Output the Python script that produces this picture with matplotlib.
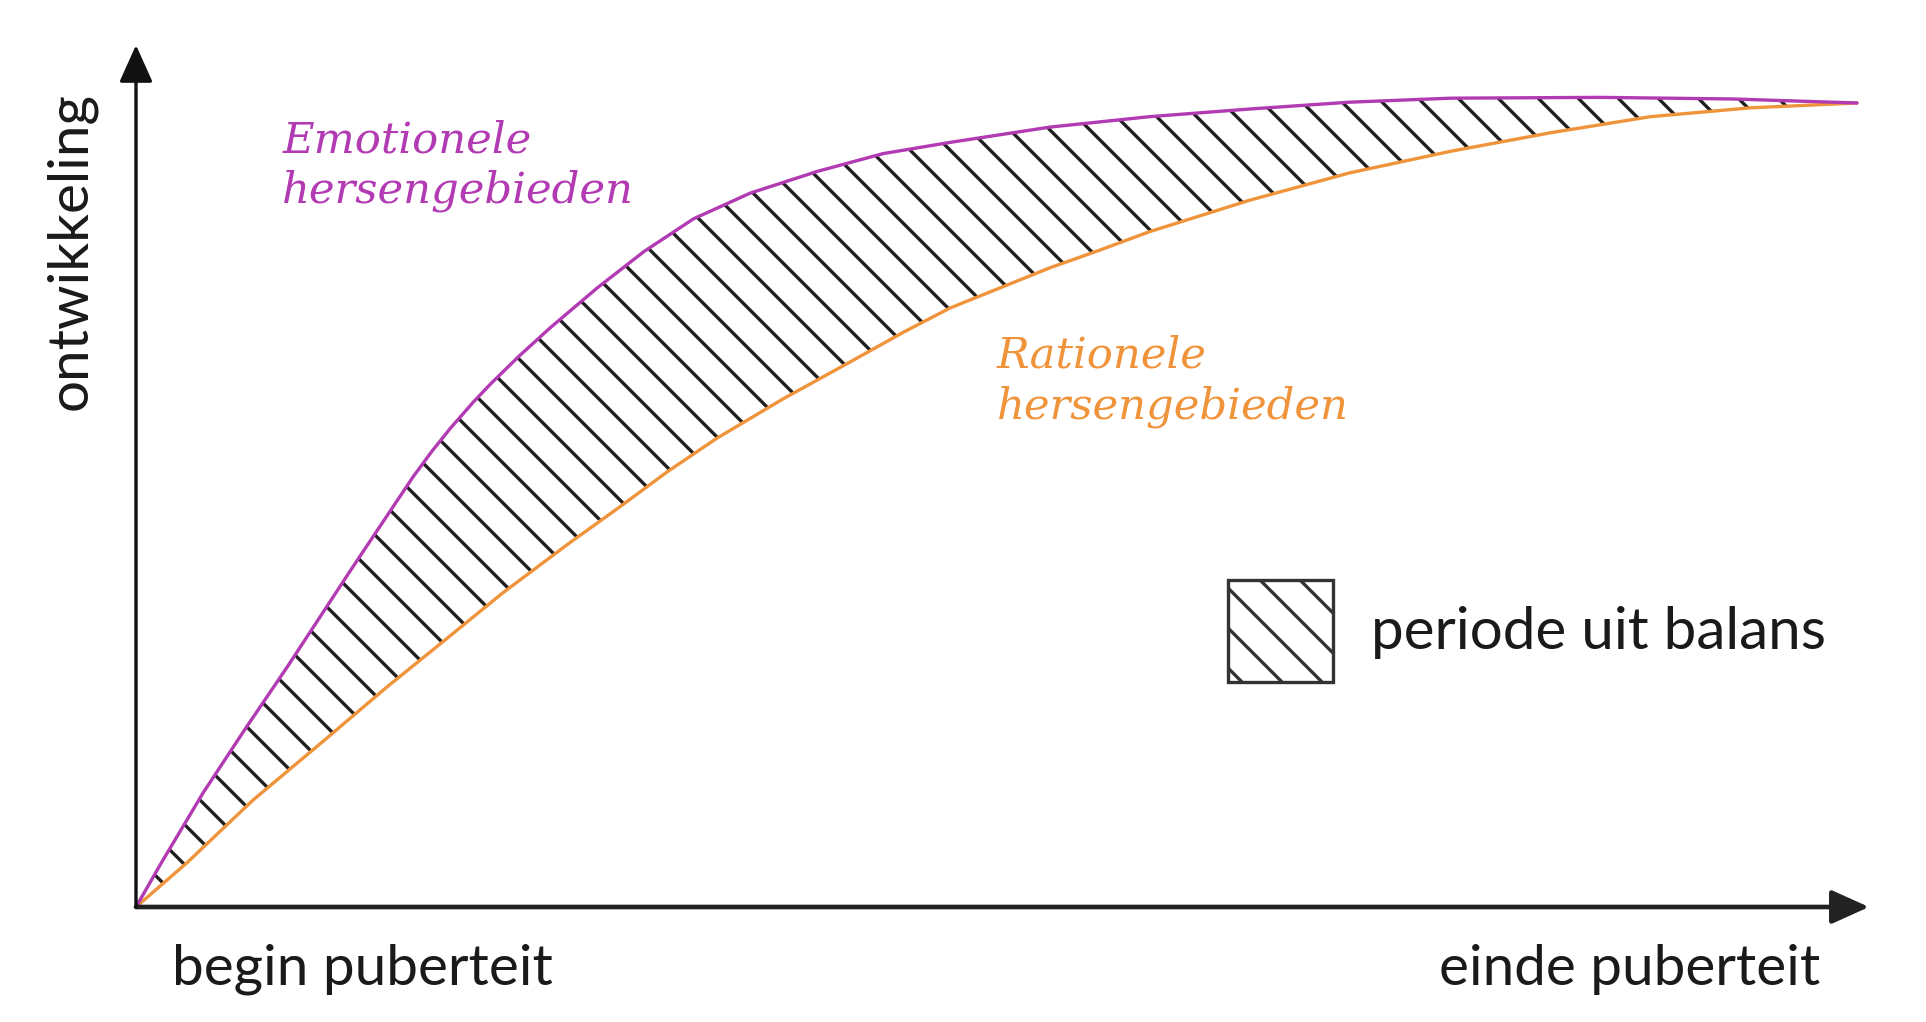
import matplotlib
matplotlib.use("Agg")
import matplotlib.pyplot as plt
from matplotlib.patches import Patch
import numpy as np

emo_x = [0, 1.5, 3.9, 6.3, 8.8, 10.7, 12.6, 14.35, 16.1, 17.2, 18.25, 19.6, 20.6,
         22.3, 24.1, 26.8, 29.5, 32.4, 35.7, 39.6, 43.4, 47.3, 53.1, 58.9, 64.7,
         70.5, 76.4, 85.1, 92.8, 100]
emo_y = [0, 5.6, 14.2, 22.0, 29.9, 36.1, 42.3, 47.9, 53.5, 56.7, 59.5, 62.8, 65.05,
         68.6, 72.1, 77.0, 81.5, 85.6, 88.8, 91.5, 93.7, 95.1, 97.0, 98.3, 99.25,
         100.1, 100.6, 100.7, 100.5, 100]

rat_x = [0, 2.96, 6.8, 10.7, 14.6, 17.95, 21.3, 25.2, 28.1, 30.85, 33.75, 37.6,
         41.5, 44.6, 47.3, 50.2, 53.1, 56.0, 58.9, 64.7, 70.5, 76.4, 82.2, 88.0,
         93.8, 100]
rat_y = [0, 5.5, 13.3, 20.3, 27.4, 33.2, 39.05, 45.3, 49.75, 54.1, 58.3, 63.2,
         67.8, 71.5, 74.5, 77.0, 79.5, 81.7, 84.0, 87.9, 91.3, 94.0, 96.3, 98.3,
         99.4, 100]

emo_label = "Emotionele\nhersengebieden"
rat_label = "Rationele\nhersengebieden"
legend_label = "periode uit balans"
x_labels = ["begin puberteit", "einde puberteit"]
y_label = "ontwikkeling"

emo_color = "#b23ab2"
rat_color = "#f0943c"

DPI = 240
plt.rcParams["hatch.linewidth"] = 1.0
plt.rcParams["font.family"] = ["Lato", "DejaVu Sans"]

fig = plt.figure(figsize=(1926 / DPI, 1022 / DPI), dpi=DPI)
ax = fig.add_axes([136 / 1926, 115 / 1022, 1721 / 1926, 804 / 1022])
ax.set_xlim(0, 100)
ax.set_ylim(0, 100)
ax.axis("off")

# gearceerd gebied tussen de twee curves
ax.fill(np.concatenate([emo_x, rat_x[::-1]]), np.concatenate([emo_y, rat_y[::-1]]),
        facecolor="none", edgecolor="#1e1e1e", hatch="\\\\", linewidth=0, clip_on=False)
ax.plot(rat_x, rat_y, color=rat_color, lw=1.0, clip_on=False, solid_capstyle="round")
ax.plot(emo_x, emo_y, color=emo_color, lw=1.0, clip_on=False, solid_capstyle="round")

# assen met pijlen
ax.annotate("", xy=(1.007, 0), xytext=(0, 0), xycoords="axes fraction",
            annotation_clip=False,
            arrowprops=dict(arrowstyle="-|>,head_length=0.4,head_width=0.18",
                            mutation_scale=24, lw=1.4, color="#222222",
                            shrinkA=0, shrinkB=0))
ax.annotate("", xy=(0, 1.072), xytext=(0, 0), xycoords="axes fraction",
            annotation_clip=False,
            arrowprops=dict(arrowstyle="-|>,head_length=0.4,head_width=0.18",
                            mutation_scale=24, lw=1.0, color="#111111",
                            shrinkA=0, shrinkB=0))

serif = ["DejaVu Serif"]
ax.text(0.085, 0.922, emo_label, transform=ax.transAxes, color=emo_color,
        family=serif, style="italic", fontsize=13, ha="left", va="center",
        linespacing=1.25)
ax.text(0.50, 0.654, rat_label, transform=ax.transAxes, color=rat_color,
        family=serif, style="italic", fontsize=13, ha="left", va="center",
        linespacing=1.25)

ax.text(0.021, -0.078, x_labels[0], transform=ax.transAxes, fontsize=17,
        ha="left", va="center", color="#1a1a1a")
ax.text(0.9785, -0.078, x_labels[1], transform=ax.transAxes, fontsize=17,
        ha="right", va="center", color="#1a1a1a")
ax.text(-0.038, 0.816, y_label, transform=ax.transAxes, fontsize=17,
        rotation=90, ha="center", va="center", color="#1a1a1a")

handle = Patch(facecolor="white", edgecolor="#333333", hatch="\\\\", linewidth=1.0)
ax.legend([handle], [legend_label], loc="center left",
          bbox_to_anchor=(1228 / 1926, 1 - 631 / 1022), bbox_transform=fig.transFigure,
          frameon=False, fontsize=17.5, handlelength=1.8, handleheight=2.3,
          handletextpad=0.65, borderpad=0, borderaxespad=0, labelcolor="#1a1a1a")

fig.savefig("out.png", dpi=DPI, facecolor="white")
